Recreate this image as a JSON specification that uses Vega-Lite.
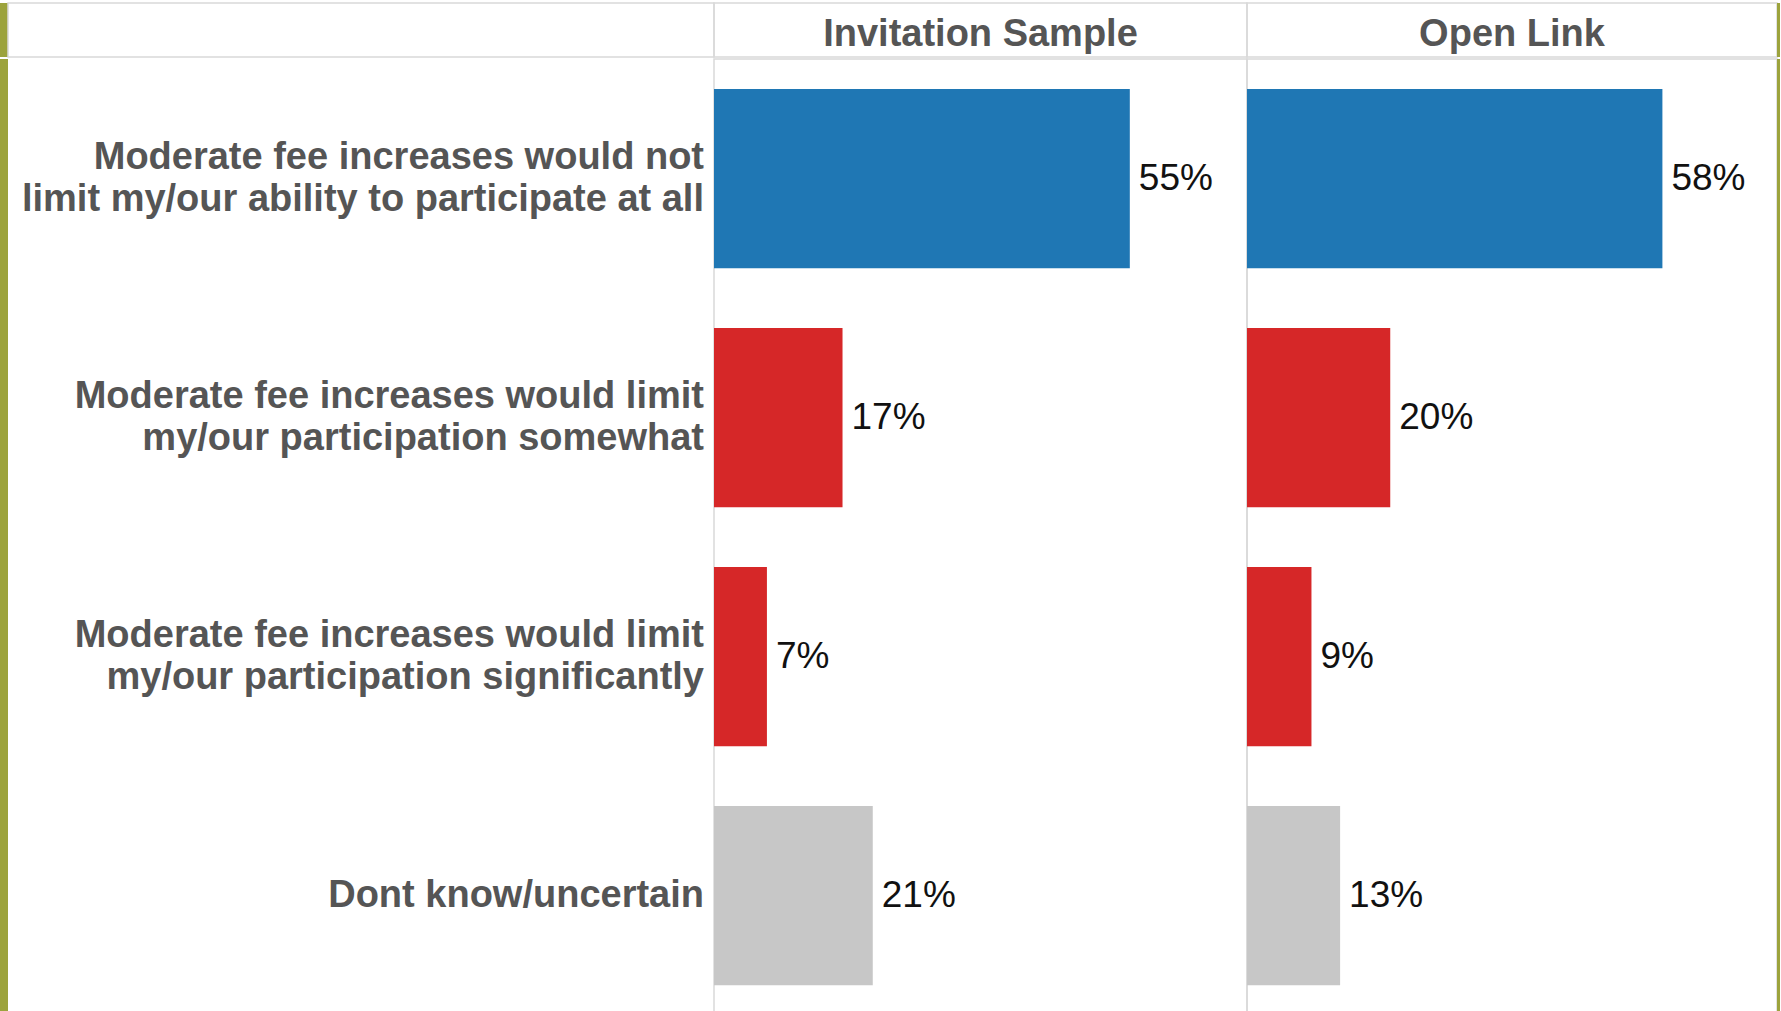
{
  "$schema": "https://vega.github.io/schema/vega-lite/v6.json",
  "background": "white",
  "padding": {"left": 0, "top": 2, "right": 0, "bottom": 0},
  "autosize": {"type": "pad"},
  "spacing": 0,
  "config": {
    "font": "Liberation Sans",
    "view": {"stroke": "#d9d9d9", "strokeWidth": 1.5},
    "concat": {"spacing": 0}
  },
  "datasets": {
    "d": [
      {"panel": "Invitation Sample", "answer": "Moderate fee increases would not|limit my/our ability to participate at all", "pct": 0.55, "kind": "not"},
      {"panel": "Invitation Sample", "answer": "Moderate fee increases would limit|my/our participation somewhat", "pct": 0.17, "kind": "limit"},
      {"panel": "Invitation Sample", "answer": "Moderate fee increases would limit|my/our participation significantly", "pct": 0.07, "kind": "limit"},
      {"panel": "Invitation Sample", "answer": "Dont know/uncertain", "pct": 0.21, "kind": "dk"},
      {"panel": "Open Link", "answer": "Moderate fee increases would not|limit my/our ability to participate at all", "pct": 0.58, "kind": "not"},
      {"panel": "Open Link", "answer": "Moderate fee increases would limit|my/our participation somewhat", "pct": 0.20, "kind": "limit"},
      {"panel": "Open Link", "answer": "Moderate fee increases would limit|my/our participation significantly", "pct": 0.09, "kind": "limit"},
      {"panel": "Open Link", "answer": "Dont know/uncertain", "pct": 0.13, "kind": "dk"}
    ],
    "panels": [
      {"panel": "Invitation Sample"},
      {"panel": "Open Link"}
    ],
    "blank": [
      {"t": ""}
    ]
  },
  "vconcat": [
    {
      "bounds": "flush",
      "hconcat": [
        {
          "width": 8, "height": 54,
          "view": {"fill": "#9ca33c", "stroke": null},
          "data": {"name": "blank"},
          "mark": {"type": "text"},
          "encoding": {"text": {"field": "t"}}
        },
        {
          "width": 706, "height": 54,
          "view": {"stroke": "#d9d9d9", "strokeWidth": 1.5},
          "data": {"name": "blank"},
          "mark": {"type": "text"},
          "encoding": {"text": {"field": "t"}}
        },
        {
          "width": 533, "height": 54,
          "view": {"stroke": "#d9d9d9", "strokeWidth": 1.5},
          "data": {"name": "panels"},
          "transform": [{"filter": "datum.panel === 'Invitation Sample'"}],
          "mark": {"type": "text", "fontSize": 38, "fontWeight": "bold", "color": "#555555", "align": "center", "baseline": "middle", "dy": 5},
          "encoding": {"text": {"field": "panel"}}
        },
        {
          "width": 530, "height": 54,
          "view": {"stroke": "#d9d9d9", "strokeWidth": 1.5},
          "data": {"name": "panels"},
          "transform": [{"filter": "datum.panel === 'Open Link'"}],
          "mark": {"type": "text", "fontSize": 38, "fontWeight": "bold", "color": "#555555", "align": "center", "baseline": "middle", "dy": 5},
          "encoding": {"text": {"field": "panel"}}
        },
        {
          "width": 3, "height": 54,
          "view": {"fill": "#9ca33c", "stroke": null},
          "data": {"name": "blank"},
          "mark": {"type": "text"},
          "encoding": {"text": {"field": "t"}}
        }
      ]
    },
    {
      "bounds": "flush",
      "hconcat": [
        {
          "width": 8, "height": 956,
          "view": {"fill": "#9ca33c", "stroke": null},
          "data": {"name": "blank"},
          "mark": {"type": "text"},
          "encoding": {"text": {"field": "t"}}
        },
        {
          "width": 706, "height": 956,
          "view": {"stroke": "transparent"},
          "data": {"name": "d"},
          "transform": [{"filter": "datum.panel === 'Invitation Sample'"}],
          "encoding": {
            "y": {
              "field": "answer", "type": "nominal",
              "sort": ["Moderate fee increases would not|limit my/our ability to participate at all", "Moderate fee increases would limit|my/our participation somewhat", "Moderate fee increases would limit|my/our participation significantly", "Dont know/uncertain"],
              "scale": {"paddingInner": 0.25, "paddingOuter": 0.125},
              "axis": null
            },
            "x": {"datum": 1, "type": "quantitative", "scale": {"domain": [0, 1], "nice": false}, "axis": null},
            "text": {"field": "answer"}
          },
          "layer": [
            {
              "transform": [{"filter": "indexof(datum.answer, '|') >= 0"}],
              "mark": {"type": "text", "align": "right", "baseline": "middle", "dx": -10, "dy": -21, "lineBreak": "|", "lineHeight": 42, "fontSize": 38, "fontWeight": "bold", "color": "#555555"}
            },
            {
              "transform": [{"filter": "indexof(datum.answer, '|') < 0"}],
              "mark": {"type": "text", "align": "right", "baseline": "middle", "dx": -10, "lineBreak": "|", "lineHeight": 42, "fontSize": 38, "fontWeight": "bold", "color": "#555555"}
            }
          ]
        },
        {
          "width": 533,
          "height": 956,
          "data": {"name": "d"},
          "transform": [{"filter": "datum.panel === 'Invitation Sample'"}],
          "encoding": {
            "y": {
              "field": "answer", "type": "nominal",
              "sort": ["Moderate fee increases would not|limit my/our ability to participate at all", "Moderate fee increases would limit|my/our participation somewhat", "Moderate fee increases would limit|my/our participation significantly", "Dont know/uncertain"],
              "scale": {"paddingInner": 0.25, "paddingOuter": 0.125},
              "axis": null
            },
            "x": {"field": "pct", "type": "quantitative", "scale": {"domain": [0, 0.705], "nice": false}, "axis": null}
          },
          "layer": [
            {"mark": {"type": "bar"}, "encoding": {"color": {"field": "kind", "type": "nominal", "scale": {"domain": ["not", "limit", "dk"], "range": ["#1f77b4", "#d62728", "#c7c7c7"]}, "legend": null}}},
            {"mark": {"type": "text", "align": "left", "baseline": "middle", "dx": 9, "fontSize": 37, "color": "#111111"}, "encoding": {"text": {"field": "pct", "type": "quantitative", "format": ".0%"}}}
          ]
        },
        {
          "width": 530,
          "height": 956,
          "data": {"name": "d"},
          "transform": [{"filter": "datum.panel === 'Open Link'"}],
          "encoding": {
            "y": {
              "field": "answer", "type": "nominal",
              "sort": ["Moderate fee increases would not|limit my/our ability to participate at all", "Moderate fee increases would limit|my/our participation somewhat", "Moderate fee increases would limit|my/our participation significantly", "Dont know/uncertain"],
              "scale": {"paddingInner": 0.25, "paddingOuter": 0.125},
              "axis": null
            },
            "x": {"field": "pct", "type": "quantitative", "scale": {"domain": [0, 0.74], "nice": false}, "axis": null}
          },
          "layer": [
            {"mark": {"type": "bar"}, "encoding": {"color": {"field": "kind", "type": "nominal", "scale": {"domain": ["not", "limit", "dk"], "range": ["#1f77b4", "#d62728", "#c7c7c7"]}, "legend": null}}},
            {"mark": {"type": "text", "align": "left", "baseline": "middle", "dx": 9, "fontSize": 37, "color": "#111111"}, "encoding": {"text": {"field": "pct", "type": "quantitative", "format": ".0%"}}}
          ]
        },
        {
          "width": 3, "height": 956,
          "view": {"fill": "#9ca33c", "stroke": null},
          "data": {"name": "blank"},
          "mark": {"type": "text"},
          "encoding": {"text": {"field": "t"}}
        }
      ]
    }
  ]
}
